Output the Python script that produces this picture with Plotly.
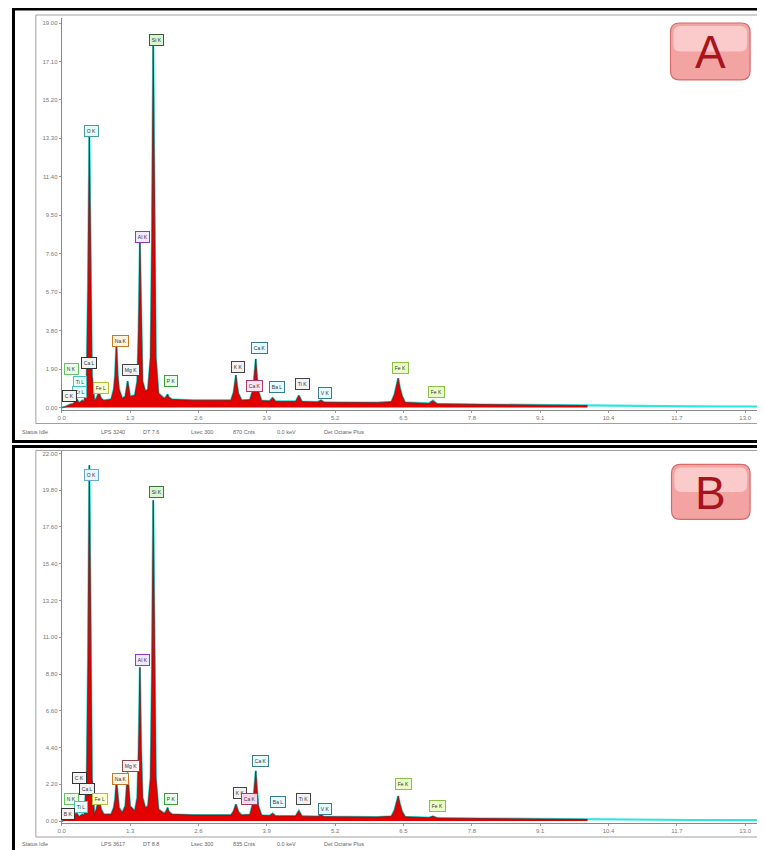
import plotly.graph_objects as go

# the page body adds an 8px margin, so the figure is 16px smaller than the window
OFF = 8
W, H = 757, 842

# ---------------- data ----------------
x_tick_vals = [0.0, 1.3, 2.6, 3.9, 5.2, 6.5, 7.8, 9.1, 10.4, 11.7, 13.0]
x_tick_text = ["0.0", "1.3", "2.6", "3.9", "5.2", "6.5", "7.8", "9.1", "10.4", "11.7", "13.0"]

a_y_tick_vals = [0.0, 1.9, 3.8, 5.7, 7.6, 9.5, 11.4, 13.3, 15.2, 17.1, 19.0]
a_y_tick_text = ["0.00", "1.90", "3.80", "5.70", "7.60", "9.50", "11.40", "13.30", "15.20", "17.10", "19.00"]
b_y_tick_vals = [0.0, 2.2, 4.4, 6.6, 8.8, 11.0, 13.2, 15.4, 17.6, 19.8, 22.0]
b_y_tick_text = ["0.00", "2.20", "4.40", "6.60", "8.80", "11.00", "13.20", "15.40", "17.60", "19.80", "22.00"]

# energy axis of both spectra (keV)
energy = [
    0.00, 0.08, 0.16, 0.22, 0.28, 0.33, 0.39, 0.43,
    0.475, 0.50, 0.525, 0.55, 0.575,
    0.62, 0.66, 0.705, 0.75, 0.80,
    0.94, 0.99, 1.015, 1.041, 1.065, 1.09,
    1.15, 1.21, 1.254, 1.30,
    1.39, 1.437, 1.462, 1.487, 1.512, 1.537,
    1.59, 1.64, 1.690, 1.715, 1.740, 1.765, 1.790, 1.84,
    1.95, 1.99, 2.013, 2.04, 2.10,
    2.50, 3.00,
    3.22, 3.27, 3.293, 3.313, 3.335, 3.36, 3.42,
    3.58, 3.64, 3.667, 3.691, 3.715, 3.74, 3.80,
    3.95, 4.012, 4.07,
    4.45, 4.51, 4.57,
    4.87, 4.93, 4.99,
    6.00, 6.27, 6.33, 6.37, 6.40, 6.43, 6.47, 6.53,
    6.98, 7.06, 7.14,
    8.00, 9.00, 10.00,
]

# spectrum A (kcounts)
a_counts = [
    0.00, 0.05, 0.15, 0.18, 0.45, 0.22, 0.35, 0.30,
    1.60, 6.00, 13.50, 6.00, 1.60,
    0.35, 0.45, 0.75, 0.45, 0.35,
    0.40, 0.90, 1.60, 3.20, 1.60, 0.90,
    0.45, 0.55, 1.30, 0.55,
    0.60, 1.30, 3.80, 8.20, 3.80, 1.30,
    0.80, 0.90, 2.50, 8.10, 18.00, 8.10, 2.50, 0.70,
    0.45, 0.55, 0.65, 0.50, 0.40,
    0.36, 0.34,
    0.36, 0.75, 1.20, 1.60, 1.10, 0.70, 0.36,
    0.38, 0.90, 1.60, 2.40, 1.50, 0.80, 0.34,
    0.32, 0.48, 0.30,
    0.30, 0.60, 0.29,
    0.27, 0.36, 0.26,
    0.24, 0.28, 0.65, 1.05, 1.45, 1.00, 0.60, 0.25,
    0.20, 0.34, 0.18,
    0.15, 0.12, 0.10,
]

# spectrum B (kcounts)
b_counts = [
    0.00, 0.06, 0.18, 0.20, 0.50, 0.25, 0.40, 0.35,
    2.60, 9.60, 21.30, 9.60, 2.60,
    0.40, 0.70, 1.40, 0.70, 0.40,
    0.40, 0.80, 1.30, 2.40, 1.30, 0.80,
    0.50, 0.90, 2.90, 0.90,
    0.60, 1.40, 4.20, 9.20, 4.20, 1.40,
    0.80, 0.90, 2.60, 8.70, 19.20, 8.70, 2.60, 0.70,
    0.45, 0.60, 0.80, 0.55, 0.40,
    0.36, 0.34,
    0.36, 0.60, 0.85, 1.00, 0.80, 0.55, 0.36,
    0.38, 1.10, 2.00, 3.00, 1.90, 0.90, 0.34,
    0.32, 0.45, 0.30,
    0.30, 0.62, 0.29,
    0.27, 0.36, 0.26,
    0.24, 0.28, 0.65, 1.10, 1.50, 1.05, 0.60, 0.25,
    0.20, 0.28, 0.18,
    0.15, 0.12, 0.10,
]

# tail of the cyan overlay beyond the red spectrum
tail_energy = [11.0, 12.0, 13.32]
tail_counts = [0.07, 0.06, 0.05]

# peak labels: text, energy, label height (kcounts), border colour, fill colour
a_labels = [
    ("Si K", 1.80, 18.16, "#3a5a40", "#d8f5d0"), ("O K", 0.57, 13.67, "#4a9a9a", "#e0fafa"),
    ("Al K", 1.53, 8.44, "#8a3acb", "#f3e6ff"), ("Na K", 1.12, 3.31, "#c07a2a", "#fff3e0"),
    ("Mg K", 1.31, 1.83, "#444444", "#f2f2f2"), ("P K", 2.08, 1.33, "#3aa03a", "#eaffea"),
    ("K K", 3.35, 2.02, "#444444", "#f2f2f2"), ("Ca K", 3.77, 2.96, "#3a7a8a", "#e6fbff"),
    ("Ca K", 3.67, 1.04, "#aa3a6a", "#ffe6f2"), ("Ba L", 4.09, 0.99, "#3a7a8a", "#e6fbff"),
    ("Ti K", 4.58, 1.18, "#444444", "#f2f2f2"), ("V K", 5.01, 0.74, "#3a7a8a", "#e6fbff"),
    ("Fe K", 6.45, 1.97, "#8ac04a", "#eaffc8"), ("Fe K", 7.13, 0.79, "#8ac04a", "#eaffc8"),
    ("N K", 0.19, 1.92, "#6ac06a", "#eaffea"), ("Ca L", 0.51, 2.22, "#333333", "#f2f2f2"),
    ("Ti L", 0.34, 1.28, "#4ac0c0", "#e6ffff"), ("Cr L", 0.34, 0.79, "#4ac0c0", "#e6ffff"),
    ("C K", 0.15, 0.59, "#333333", "#f2f2f2"), ("Fe L", 0.74, 0.94, "#b0c040", "#fbffd0"),
]
b_labels = [
    ("O K", 0.57, 20.74, "#6aaad0", "#e6f6ff"), ("Si K", 1.80, 19.72, "#3a7a40", "#d8f5d0"),
    ("Al K", 1.53, 9.62, "#8a3acb", "#f3e6ff"), ("Mg K", 1.32, 3.29, "#8a4a4a", "#fff0f0"),
    ("Na K", 1.12, 2.51, "#c07a2a", "#fff3e0"), ("P K", 2.08, 1.31, "#3aa03a", "#eaffea"),
    ("K K", 3.39, 1.67, "#444444", "#f2f2f2"), ("Ca K", 3.78, 3.59, "#3a7a8a", "#e6fbff"),
    ("Ca K", 3.58, 1.31, "#aa3a6a", "#ffd6e8"), ("Ba L", 4.11, 1.14, "#3a7a8a", "#e6fbff"),
    ("Ti K", 4.60, 1.31, "#444444", "#f2f2f2"), ("V K", 5.01, 0.72, "#3a7a8a", "#e6fbff"),
    ("Fe K", 6.51, 2.21, "#8ac04a", "#eaffc8"), ("Fe K", 7.15, 0.90, "#8ac04a", "#eaffc8"),
    ("C K", 0.34, 2.57, "#333333", "#f2f2f2"), ("Ca L", 0.49, 1.91, "#333333", "#f2f2f2"),
    ("N K", 0.19, 1.31, "#6ac06a", "#eaffea"), ("Fe L", 0.72, 1.31, "#b0c040", "#fbffd0"),
    ("Ti L", 0.36, 0.84, "#4ac0c0", "#e6ffff"), ("B K", 0.12, 0.42, "#333333", "#f2f2f2"),
]

a_status = ["Status Idle", "LPS 3240", "DT 7.6", "Lsec 300", "870 Cnts", "0.0 keV", "Det Octane Plus"]
b_status = ["Status Idle", "LPS 3617", "DT 8.8", "Lsec 300", "835 Cnts", "0.0 keV", "Det Octane Plus"]


# ---------------- helpers (window pixels -> paper) ----------------
def px(x):
    return (x - OFF) / W


def py(y):
    return 1 - (y - OFF) / H


RED = "#e30000"
CYAN = "#2fe6de"

fig = go.Figure()

for counts, xa, ya in [(a_counts, "x", "y"), (b_counts, "x2", "y2")]:
    fig.add_trace(go.Scatter(x=energy + tail_energy, y=counts + tail_counts, mode="lines",
                             line=dict(color=CYAN, width=2.2), xaxis=xa, yaxis=ya,
                             hoverinfo="skip", showlegend=False))
    fig.add_trace(go.Scatter(x=energy, y=counts, mode="lines", fill="tozeroy",
                             fillcolor=RED, line=dict(color="#7a1010", width=0.7),
                             xaxis=xa, yaxis=ya, showlegend=False))

axis_common = dict(showgrid=False, zeroline=False, showline=True, linecolor="#888888",
                   linewidth=1, ticks="outside", ticklen=2, tickcolor="#999999",
                   tickfont=dict(size=6, color="#777777", family="Liberation Sans"))

fig.update_layout(
    width=W, height=H, margin=dict(l=0, r=0, t=0, b=0),
    paper_bgcolor="white", plot_bgcolor="white",
    xaxis=dict(domain=[px(58), px(762)], range=[0, 13.32], anchor="y",
               tickvals=x_tick_vals, ticktext=x_tick_text, **axis_common),
    yaxis=dict(domain=[py(410), py(18)], range=[-0.099, 19.25], anchor="x",
               tickvals=a_y_tick_vals, ticktext=a_y_tick_text, **axis_common),
    xaxis2=dict(domain=[px(58), px(762)], range=[0, 13.32], anchor="y2",
                tickvals=x_tick_vals, ticktext=x_tick_text, **axis_common),
    yaxis2=dict(domain=[py(824), py(451)], range=[-0.12, 22.18], anchor="x2",
                tickvals=b_y_tick_vals, ticktext=b_y_tick_text, **axis_common),
)

shapes = []
# window frames
for top, bot in [(9, 442), (447, 860)]:
    shapes.append(dict(type="rect", xref="paper", yref="paper", x0=px(9.5), x1=px(764),
                       y0=py(bot), y1=py(top), line=dict(color="black", width=3), layer="above"))
for top, inner_bot in [(15, 424), (451, 838)]:
    for (x0, y0, x1, y1) in [(32, inner_bot, 32, top), (32, top, 762, top),
                             (762, inner_bot, 762, top), (32, inner_bot, 762, inner_bot)]:
        shapes.append(dict(type="line", xref="paper", yref="paper", x0=px(x0), x1=px(x1),
                           y0=py(y0), y1=py(y1), line=dict(color="#a0a0a0", width=1)))


def rounded_rect(x0, y0, x1, y1, r):
    rx, ry = r / W, r / H
    X0, X1, Y0, Y1 = px(x0), px(x1), py(y1), py(y0)
    return (f"M {X0+rx},{Y0} L {X1-rx},{Y0} Q {X1},{Y0} {X1},{Y0+ry} "
            f"L {X1},{Y1-ry} Q {X1},{Y1} {X1-rx},{Y1} L {X0+rx},{Y1} "
            f"Q {X0},{Y1} {X0},{Y1-ry} L {X0},{Y0+ry} Q {X0},{Y0} {X0+rx},{Y0} Z")


annotations = []
for letter, (x0, y0, x1, y1) in [("A", (670, 23, 750, 80)), ("B", (671, 465, 750, 520))]:
    shapes.append(dict(type="path", xref="paper", yref="paper",
                       path=rounded_rect(x0, y0, x1, y1, 9),
                       fillcolor="#f4a3a3", line=dict(color="#d46a6a", width=1.2)))
    shapes.append(dict(type="path", xref="paper", yref="paper",
                       path=rounded_rect(x0 + 3, y0 + 3, x1 - 3, (y0 + y1) / 2, 7),
                       fillcolor="rgba(255,228,228,0.6)", line=dict(width=0)))
    annotations.append(dict(xref="paper", yref="paper", x=px((x0 + x1) / 2), y=py((y0 + y1) / 2 + 1),
                            text=letter, showarrow=False, xanchor="center", yanchor="middle",
                            font=dict(size=46, color="#a8141c", family="Liberation Sans")))

for labels, xa, ya in [(a_labels, "x", "y"), (b_labels, "x2", "y2")]:
    for text, e, h, bc, bg in labels:
        annotations.append(dict(xref=xa, yref=ya, x=e, y=h, text=text, showarrow=False,
                                font=dict(size=5, color="#333333", family="Liberation Sans"),
                                bordercolor=bc, bgcolor=bg, borderwidth=1, borderpad=1.8,
                                xanchor="center", yanchor="middle"))

status_x = [16, 95, 138, 186, 228, 272, 320]
for status, ypos in [(a_status, 433), (b_status, 845)]:
    for t, xs in zip(status, status_x):
        annotations.append(dict(xref="paper", yref="paper", x=px(xs), y=py(ypos), text=t,
                                showarrow=False, xanchor="left", yanchor="middle",
                                font=dict(size=5.5, color="#666666", family="Liberation Sans")))

fig.update_layout(shapes=shapes, annotations=annotations)
fig.write_html("out.html")
